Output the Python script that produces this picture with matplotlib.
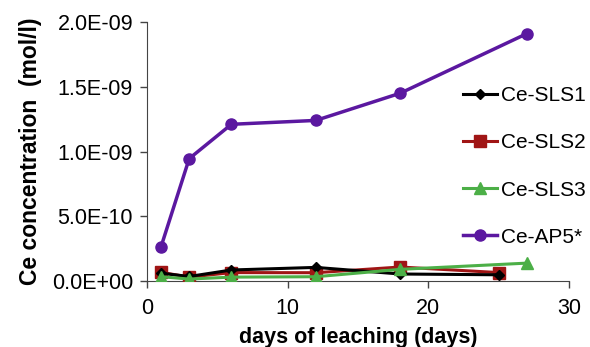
import matplotlib
matplotlib.use("Agg")
import matplotlib.pyplot as plt

plt.rcParams['font.family'] = ['Liberation Sans', 'DejaVu Sans']

days_sls1 = [1, 3, 6, 12, 18, 25]
sls1 = [6.0e-11, 3.5e-11, 8.5e-11, 1.05e-10, 5.4e-11, 4.8e-11]
days_sls2 = [1, 3, 6, 12, 18, 25]
sls2 = [6.7e-11, 3.0e-11, 6.5e-11, 6.4e-11, 1.08e-10, 6.5e-11]
days_sls3 = [1, 3, 6, 12, 18, 27]
sls3 = [3.3e-11, 1.5e-11, 3.0e-11, 3.3e-11, 9.0e-11, 1.38e-10]
days_ap5 = [1, 3, 6, 12, 18, 27]
ap5 = [2.65e-10, 9.45e-10, 1.21e-09, 1.24e-09, 1.45e-09, 1.91e-09]

y_ticks = [0, 5e-10, 1e-09, 1.5e-09, 2e-09]
y_labels = ['0.0E+00', '5.0E-10', '1.0E-09', '1.5E-09', '2.0E-09']
x_ticks = [0, 10, 20, 30]

fig = plt.figure(figsize=(5.9, 3.47), dpi=100)
ax = fig.add_axes([147/590, 1-281/347, (569-147)/590, (281-22)/347])

ax.plot(days_sls1, sls1, color='black', marker='D', markersize=5.5, lw=2.2, label='Ce-SLS1', zorder=4)
ax.plot(days_sls2, sls2, color='#a01515', marker='s', markersize=8, lw=2.2, label='Ce-SLS2', zorder=3)
ax.plot(days_sls3, sls3, color='#4caf47', marker='^', markersize=9, lw=2.2, label='Ce-SLS3', zorder=5)
ax.plot(days_ap5, ap5, color='#5b18a0', marker='o', markersize=8, lw=2.5, label='Ce-AP5*', zorder=6)

ax.set_xlim(0, 30)
ax.set_ylim(0, 2e-09)
ax.set_xticks(x_ticks)
ax.set_yticks(y_ticks)
ax.set_yticklabels(y_labels)
ax.tick_params(labelsize=15.5, length=5, width=1, color='#444444')
ax.tick_params(axis='x', pad=7)
ax.tick_params(axis='y', pad=5)
ax.spines['top'].set_visible(False)
ax.spines['right'].set_visible(False)
for s in ['left', 'bottom']:
    ax.spines[s].set_color('#444444')
ax.set_xlabel('days of leaching (days)', fontsize=15.5, fontweight='bold', labelpad=6)
ax.set_ylabel('Ce concentration  (mol/l)', fontsize=16.5, fontweight='bold', labelpad=7)

leg = ax.legend(loc='upper left', bbox_to_anchor=(455/590, 1-78/347), bbox_transform=fig.transFigure,
                frameon=False, fontsize=15, handlelength=1.6, handletextpad=0.2, labelspacing=1.35,
                borderaxespad=0)

fig.savefig('out.png', dpi=100)
